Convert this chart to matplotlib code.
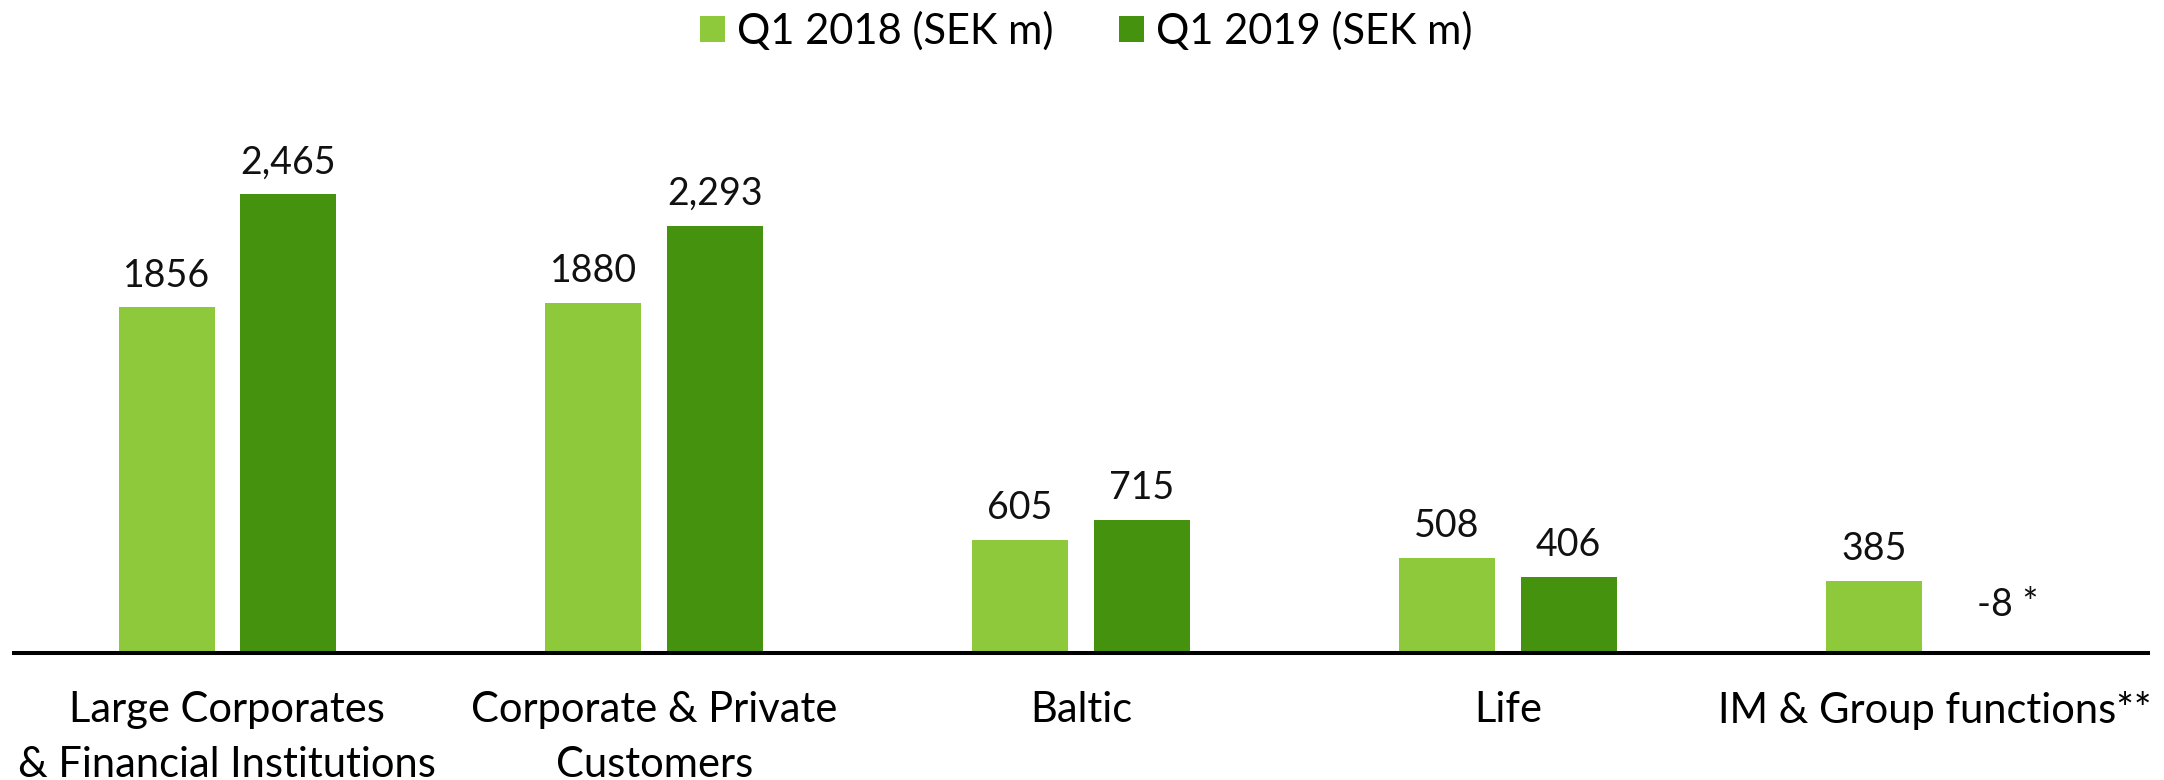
import matplotlib
matplotlib.use("Agg")
import matplotlib.pyplot as plt
from matplotlib import font_manager
import numpy as np

categories = ["Large Corporates\n& Financial Institutions", "Corporate & Private\nCustomers",
              "Baltic", "Life", "IM & Group functions**"]
q1_2018 = [1856, 1880, 605, 508, 385]
q1_2019 = [2465, 2293, 715, 406, -8]
labels_2018 = ["1856", "1880", "605", "508", "385"]
labels_2019 = ["2,465", "2,293", "715", "406", "-8 *"]
series_names = ["Q1 2018 (SEK m)", "Q1 2019 (SEK m)"]

c_light = "#8DC93A"
c_dark = "#44920E"


def pick(families):
    for f in families:
        try:
            font_manager.findfont(font_manager.FontProperties(family=f), fallback_to_default=False)
            return f
        except Exception:
            pass
    return "DejaVu Sans"


font = pick(["Lato", "Roboto", "Open Sans", "DejaVu Sans"])

fig = plt.figure(figsize=(21.64, 7.8), dpi=100)
ax = fig.add_axes([14 / 2164, 1 - 652.7 / 780, 2134 / 2164, 552.7 / 780])

x = np.arange(len(categories))
w = 0.225
off = 0.1425
b1 = ax.bar(x - off, q1_2018, w, color=c_light, label=series_names[0])
b2 = ax.bar(x + off, q1_2019, w, color=c_dark, label=series_names[1])

ax.set_xlim(-0.5, 4.5)
ax.set_ylim(0, 2971.5)

txt_kw = dict(ha="center", va="baseline", fontsize=27, family=font, color="#111111")
for xi, v, t in zip(x - off, q1_2018, labels_2018):
    ax.annotate(t, (xi, v), xytext=(0, 15.1), textcoords="offset points", **txt_kw)
for xi, v, t in zip(x + off, q1_2019, labels_2019):
    if v < 0:
        ax.annotate(t, (xi, 0), xytext=(8.5, 26.4), textcoords="offset points", **txt_kw)
    else:
        ax.annotate(t, (xi, v), xytext=(0, 15.1), textcoords="offset points", **txt_kw)

for s in ["top", "right", "left"]:
    ax.spines[s].set_visible(False)
ax.spines["bottom"].set_linewidth(2.9)
ax.spines["bottom"].set_color("black")
ax.set_yticks([])
ax.set_xticks(x)
ax.set_xticklabels(categories, fontsize=30, family=font, linespacing=1.54)
ax.tick_params(axis="x", length=0, pad=27.5)

leg = fig.legend(handles=[b1, b2], labels=series_names, loc="center",
                 bbox_to_anchor=(1086 / 2164, 1 - 31 / 780), ncol=2, frameon=False,
                 prop={"family": font, "size": 30}, handlelength=0.6, handleheight=0.575,
                 handletextpad=0.29, columnspacing=1.58, borderpad=0, borderaxespad=0)

fig.savefig("out.png", dpi=100)
